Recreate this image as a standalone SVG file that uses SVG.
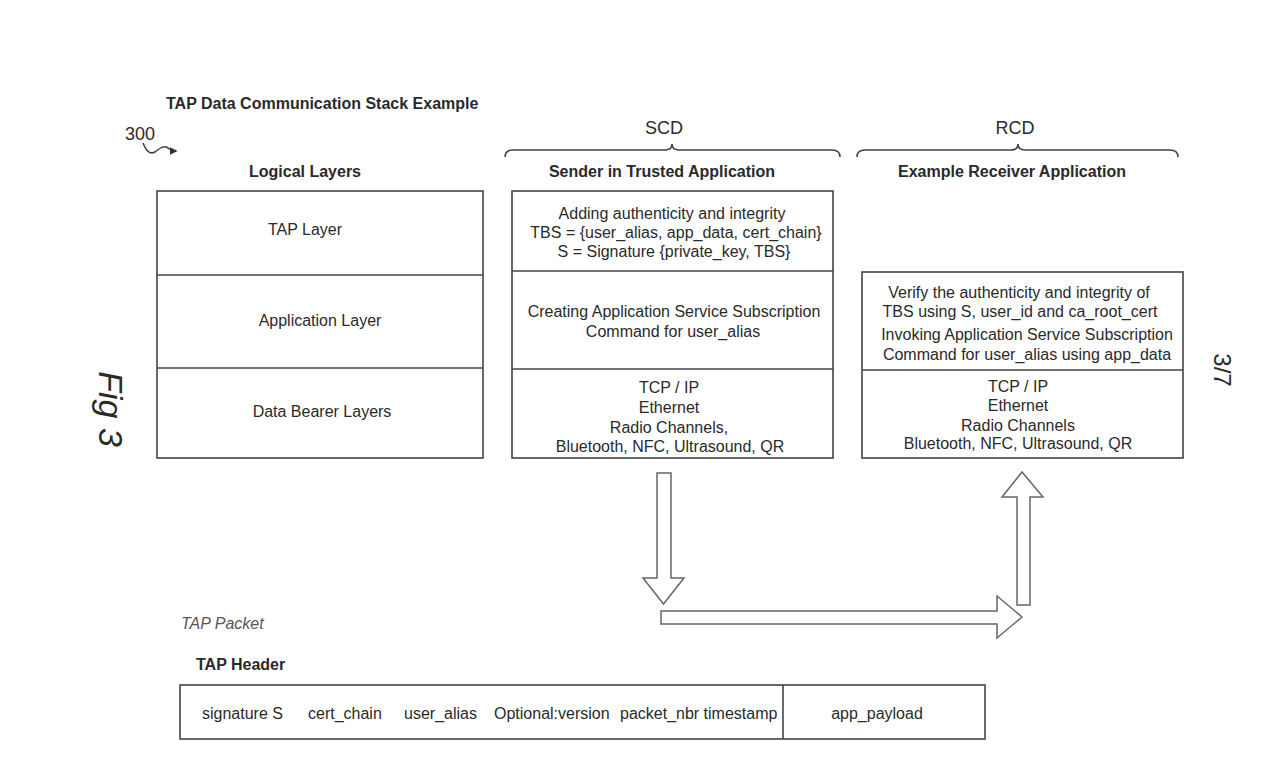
<svg xmlns="http://www.w3.org/2000/svg" width="1280" height="779" viewBox="0 0 1280 779">
<style>
text{font-family:"Liberation Sans",Arial,sans-serif;fill:#2a2a2a;font-size:16px}
.b{font-weight:bold}
.c{text-anchor:middle}
.box{fill:#fff;stroke:#444;stroke-width:1.6}
.ln{stroke:#444;stroke-width:1.6;fill:none}
.arr{fill:#fff;stroke:#666;stroke-width:1.5}
</style>
<defs>
<marker id="ah" viewBox="0 0 10 10" refX="8" refY="5" markerWidth="5" markerHeight="5" orient="auto"><path d="M0,0 L10,5 L0,10 z" fill="#333"/></marker>
</defs>
<rect width="1280" height="779" fill="#fff"/>
<g id="title">
<text class="b" x="166" y="109">TAP Data Communication Stack Example</text>
<text x="125" y="140" style="font-size:18px">300</text>
<path class="ln" d="M143,143 C146,150 149,155 155,152 C160,148 164,145 168,148 C171,150 172,151 176,151" stroke-width="1.2" marker-end="url(#ah)"/>
</g>
<g id="logical">
<text class="b c" x="305" y="177">Logical Layers</text>
<rect class="box" x="157" y="191" width="326" height="267"/>
<line class="ln" x1="157" y1="275" x2="483" y2="275"/>
<line class="ln" x1="157" y1="368" x2="483" y2="368"/>
<text class="c" x="305" y="235">TAP Layer</text>
<text class="c" x="320" y="326">Application Layer</text>
<text class="c" x="322" y="417">Data Bearer Layers</text>
</g>
<g id="sender">
<path class="ln" d="M505,157 Q505,150 513,150 L665,150 Q672,150 672,144 Q672,150 679,150 L832,150 Q840,150 840,157" stroke-width="1.3"/>
<text class="c" x="664" y="134" style="font-size:18px">SCD</text>
<text class="b c" x="662" y="177">Sender in Trusted Application</text>
<rect class="box" x="512" y="191" width="321" height="267"/>
<line class="ln" x1="512" y1="271" x2="833" y2="271"/>
<line class="ln" x1="512" y1="369" x2="833" y2="369"/>
<text class="c" x="672" y="219">Adding authenticity and integrity</text>
<text class="c" x="676" y="238">TBS = {user_alias, app_data, cert_chain}</text>
<text class="c" x="674" y="257">S = Signature {private_key, TBS}</text>
<text class="c" x="674" y="317">Creating Application Service Subscription</text>
<text class="c" x="673" y="337">Command for user_alias</text>
<text class="c" x="669" y="393">TCP / IP</text>
<text class="c" x="669" y="413">Ethernet</text>
<text class="c" x="669" y="433">Radio Channels,</text>
<text class="c" x="670" y="452">Bluetooth, NFC, Ultrasound, QR</text>
</g>
<g id="receiver">
<path class="ln" d="M857,157 Q857,150 865,150 L1011,150 Q1018,150 1018,144 Q1018,150 1025,150 L1170,150 Q1178,150 1178,157" stroke-width="1.3"/>
<text class="c" x="1015" y="134" style="font-size:18px">RCD</text>
<text class="b c" x="1012" y="177">Example Receiver Application</text>
<rect class="box" x="862" y="272" width="321" height="186"/>
<line class="ln" x1="862" y1="370" x2="1183" y2="370"/>
<text class="c" x="1019" y="298">Verify the authenticity and integrity of</text>
<text class="c" x="1020" y="317">TBS using S, user_id and ca_root_cert</text>
<text class="c" x="1027" y="340">Invoking Application Service Subscription</text>
<text class="c" x="1027" y="360">Command for user_alias using app_data</text>
<text class="c" x="1018" y="392">TCP / IP</text>
<text class="c" x="1018" y="411">Ethernet</text>
<text class="c" x="1018" y="431">Radio Channels</text>
<text class="c" x="1018" y="449">Bluetooth, NFC, Ultrasound, QR</text>
</g>
<g id="connectors">
<path class="arr" d="M657,473 L671,473 L671,578 L684,578 L663.5,604 L643,578 L657,578 Z"/>
<path class="arr" d="M661,611 L997,611 L997,596 L1022,617 L997,638 L997,624 L661,624 Z"/>
<path class="arr" d="M1017,605 L1030,605 L1030,497 L1043,497 L1022,472 L1002,497 L1017,497 Z"/>
</g>
<g id="packet">
<text x="181" y="629" style="font-style:italic;font-size:16px;fill:#555">TAP Packet</text>
<text class="b" x="196" y="670">TAP Header</text>
<rect class="box" x="180" y="685" width="805" height="54"/>
<line class="ln" x1="783" y1="685" x2="783" y2="739"/>
<text x="202" y="719">signature S</text>
<text x="308" y="719">cert_chain</text>
<text x="404" y="719">user_alias</text>
<text x="494" y="719">Optional:version</text>
<text x="620" y="719">packet_nbr timestamp</text>
<text class="c" x="877" y="719">app_payload</text>
</g>
<g id="labels">
<text transform="translate(99,409) rotate(90)" class="c" style="font-size:34px;font-style:italic">Fig 3</text>
<text transform="translate(1214,370) rotate(90)" class="c" style="font-size:24px">3/7</text>
</g>
</svg>
